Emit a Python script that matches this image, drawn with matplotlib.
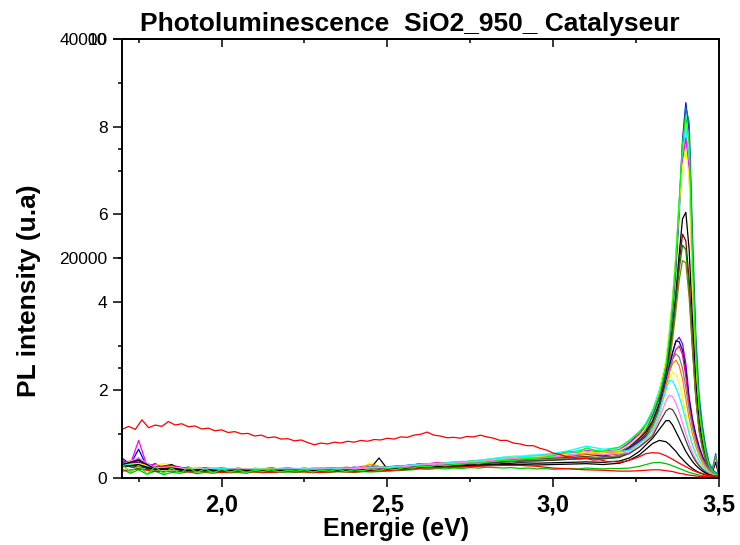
import matplotlib
matplotlib.use('Agg')
import matplotlib.pyplot as plt
from matplotlib.ticker import FixedLocator

plt.rcParams['font.family'] = ['Liberation Sans', 'DejaVu Sans']

# ---------------- data ----------------
TITLE = "Photoluminescence  SiO2_950_ Catalyseur"
XLABEL = "Energie (eV)"
YLABEL = "PL intensity (u.a)"

X_TICKS = [2.0, 2.5, 3.0, 3.5]
X_TICK_LABELS = ["2,0", "2,5", "3,0", "3,5"]
X_MINOR = [1.75, 2.25, 2.75, 3.25]
Y_TICKS = [0, 2, 4, 6, 8, 10]
Y_TICK_LABELS = ["0", "2", "4", "6", "8", "10"]
Y_MINOR = [1, 3, 5, 7, 9]
Y2_TICKS = [20000, 40000]
Y2_TICK_LABELS = ["20000", "40000"]
Y2_MINOR = [10000, 30000]

# energy grids (background part + peak part)
E_COARSE_BASE = [1.70, 1.75, 1.80, 1.85, 1.90, 1.95, 2.00, 2.05, 2.10, 2.15, 2.20, 2.25, 2.30, 2.35,
                 2.40, 2.45, 2.50, 2.55, 2.60, 2.65, 2.70, 2.75, 2.80, 2.85, 2.90, 2.95, 3.00, 3.05,
                 3.10, 3.15, 3.20]
E_FINE_BASE = [1.700, 1.725, 1.750, 1.775, 1.800, 1.825, 1.850, 1.875, 1.900, 1.925, 1.950, 1.975,
               2.000, 2.025, 2.050, 2.075, 2.100, 2.125, 2.150, 2.175, 2.200, 2.225, 2.250, 2.275,
               2.300, 2.325, 2.350, 2.375, 2.400, 2.425, 2.450, 2.475, 2.500, 2.525, 2.550, 2.575,
               2.600, 2.625, 2.650, 2.675, 2.700, 2.725, 2.750, 2.775, 2.800, 2.825, 2.850, 2.875,
               2.900, 2.925, 2.950, 2.975, 3.000, 3.025, 3.050, 3.075, 3.100, 3.125, 3.150, 3.175,
               3.200]
E_PEAK = [3.23, 3.26, 3.28, 3.30, 3.32, 3.34, 3.35, 3.36, 3.37, 3.38, 3.39, 3.40, 3.41, 3.42, 3.43,
          3.44, 3.45, 3.46, 3.47, 3.48, 3.49, 3.50]
E_GRID = E_COARSE_BASE + E_PEAK
E_FINE = E_FINE_BASE + E_PEAK

# spectra with a fine background grid
LIME = [0.30, 0.12, 0.28, 0.08, 0.25, 0.10, 0.22, 0.09, 0.24, 0.12, 0.20,
        0.11, 0.19, 0.13, 0.18, 0.12, 0.17, 0.14, 0.18, 0.13, 0.17,
        0.15, 0.18, 0.13, 0.17, 0.15, 0.19, 0.14, 0.18, 0.16, 0.20,
        0.17, 0.21, 0.18, 0.23, 0.22, 0.26, 0.25, 0.29, 0.27, 0.30,
        0.31, 0.34, 0.32, 0.36, 0.37, 0.40, 0.38, 0.42, 0.44, 0.45,
        0.47, 0.50, 0.55, 0.60, 0.58, 0.68, 0.62, 0.60, 0.66, 0.70] + \
       [0.85, 1.05, 1.20, 1.50, 1.90, 2.55, 3.20, 4.00, 5.00, 6.30, 7.60, 8.25, 7.60, 4.90, 2.80,
        1.60, 1.00, 0.55, 0.28, 0.15, 0.10, 0.04]
MAGENTA = [0.40, 0.30, 0.85, 0.28, 0.30, 0.22, 0.26, 0.20, 0.24, 0.19, 0.22,
           0.20, 0.21, 0.18, 0.22, 0.19, 0.21, 0.20, 0.23, 0.19, 0.21,
           0.20, 0.22, 0.19, 0.21, 0.22, 0.20, 0.24, 0.22, 0.26, 0.23,
           0.24, 0.25, 0.26, 0.27, 0.28, 0.30, 0.32, 0.34, 0.33, 0.36,
           0.37, 0.36, 0.39, 0.40, 0.42, 0.44, 0.43, 0.47, 0.48, 0.50,
           0.51, 0.53, 0.55, 0.58, 0.57, 0.62, 0.60, 0.60, 0.62, 0.64] + \
          [0.80, 1.00, 1.20, 1.50, 1.95, 2.60, 3.20, 4.00, 5.00, 6.20, 7.20, 7.75, 7.00, 4.50, 2.60,
           1.45, 0.90, 0.50, 0.25, 0.14, 0.10, 0.04]
BLUE = [0.45, 0.30, 0.65, 0.25, 0.32, 0.22, 0.30, 0.20, 0.24, 0.19, 0.22,
        0.18, 0.21, 0.19, 0.20, 0.17, 0.21, 0.19, 0.22, 0.18, 0.20,
        0.19, 0.18, 0.22, 0.21, 0.20, 0.23, 0.21, 0.24, 0.22, 0.25,
        0.23, 0.24, 0.26, 0.27, 0.29, 0.32, 0.31, 0.30, 0.33, 0.35,
        0.36, 0.37, 0.39, 0.40, 0.43, 0.45, 0.46, 0.48, 0.49, 0.50,
        0.51, 0.52, 0.55, 0.58, 0.57, 0.60, 0.59, 0.58, 0.60, 0.62] + \
       [0.80, 1.00, 1.15, 1.45, 1.85, 2.50, 3.10, 3.90, 4.90, 6.20, 7.70, 8.55, 7.90, 5.20, 3.00,
        1.70, 1.10, 0.60, 0.30, 0.18, 0.12, 0.05]
BLACK = [0.35, 0.25, 0.45, 0.20, 0.22, 0.26, 0.30, 0.18, 0.22, 0.16, 0.20,
         0.17, 0.19, 0.16, 0.18, 0.17, 0.16, 0.18, 0.17, 0.16, 0.18,
         0.17, 0.16, 0.19, 0.18, 0.17, 0.19, 0.18, 0.20, 0.19, 0.22,
         0.45, 0.20, 0.22, 0.23, 0.24, 0.28, 0.27, 0.29, 0.30, 0.32,
         0.31, 0.33, 0.34, 0.36, 0.37, 0.40, 0.39, 0.42, 0.41, 0.42,
         0.43, 0.44, 0.45, 0.46, 0.47, 0.48, 0.46, 0.47, 0.48, 0.50] + \
        [0.70, 0.90, 1.05, 1.30, 1.70, 2.30, 2.80, 3.40, 4.20, 5.10, 5.90, 6.05, 5.20, 3.60, 2.20,
         1.30, 0.80, 0.45, 0.22, 0.12, 0.35, 0.04]
GREEN2 = [0.20, 0.10, 0.18, 0.08, 0.15, 0.07, 0.12, 0.10, 0.14, 0.09, 0.12,
          0.10, 0.13, 0.11, 0.12, 0.10, 0.14, 0.11, 0.13, 0.12, 0.13,
          0.12, 0.14, 0.11, 0.13, 0.12, 0.14, 0.13, 0.12, 0.14, 0.13,
          0.14, 0.15, 0.16, 0.17, 0.18, 0.20, 0.19, 0.21, 0.20, 0.22,
          0.21, 0.23, 0.22, 0.24, 0.23, 0.22, 0.23, 0.21, 0.22, 0.20,
          0.21, 0.19, 0.20, 0.21, 0.20, 0.22, 0.21, 0.20, 0.21, 0.21] + \
         [0.22, 0.26, 0.30, 0.34, 0.35, 0.32, 0.30, 0.27, 0.24, 0.21, 0.18, 0.15, 0.12, 0.10, 0.08,
          0.06, 0.05, 0.04, 0.03, 0.05, 0.03, 0.02]
YELLOW = [0.30, 0.40, 0.35, 0.25, 0.28, 0.32, 0.30, 0.20, 0.22, 0.24, 0.20,
          0.21, 0.22, 0.20, 0.21, 0.19, 0.20, 0.22, 0.21, 0.20, 0.22,
          0.20, 0.21, 0.22, 0.21, 0.23, 0.22, 0.24, 0.22, 0.23, 0.35,
          0.24, 0.24, 0.25, 0.26, 0.28, 0.30, 0.31, 0.32, 0.35, 0.37,
          0.36, 0.37, 0.40, 0.41, 0.43, 0.45, 0.47, 0.50, 0.49, 0.50,
          0.51, 0.52, 0.54, 0.55, 0.57, 0.60, 0.58, 0.57, 0.60, 0.62] + \
         [0.75, 0.95, 1.15, 1.50, 1.95, 2.70, 3.30, 4.10, 5.10, 6.20, 7.10, 7.50, 6.80, 4.40, 2.50,
          1.40, 0.85, 0.45, 0.22, 0.12, 0.08, 0.03]

# spectra with a coarse background grid
DARKCYAN = [0.25, 0.30, 0.20, 0.22, 0.19, 0.18, 0.20, 0.19, 0.18, 0.20, 0.19, 0.20, 0.21, 0.19, 0.22, 0.24,
            0.22, 0.25, 0.30, 0.31, 0.33, 0.35, 0.38, 0.42, 0.44, 0.46, 0.50, 0.53, 0.55, 0.54, 0.58,
            0.75, 0.95, 1.10, 1.40, 1.80, 2.40, 2.95, 3.70, 4.70, 6.00, 7.50, 8.45, 8.10, 5.60, 3.30,
            1.90, 1.20, 0.70, 0.35, 0.20, 0.55, 0.08]
CYAN = [0.35, 0.30, 0.22, 0.25, 0.20, 0.19, 0.20, 0.18, 0.20, 0.21, 0.19, 0.20, 0.22, 0.21, 0.23, 0.24,
        0.25, 0.28, 0.30, 0.33, 0.35, 0.38, 0.42, 0.47, 0.50, 0.52, 0.55, 0.62, 0.72, 0.65, 0.68,
        0.85, 1.05, 1.25, 1.55, 2.00, 2.65, 3.30, 4.10, 5.10, 6.30, 7.40, 7.95, 7.30, 4.70, 2.70,
        1.50, 0.95, 0.50, 0.25, 0.15, 0.10, 0.04]
WINE = [0.30, 0.25, 0.20, 0.22, 0.17, 0.18, 0.16, 0.17, 0.16, 0.17, 0.18, 0.16, 0.18, 0.17, 0.19, 0.21,
        0.20, 0.22, 0.27, 0.28, 0.30, 0.31, 0.34, 0.37, 0.40, 0.40, 0.42, 0.44, 0.46, 0.45, 0.48,
        0.65, 0.85, 1.00, 1.25, 1.65, 2.25, 2.75, 3.35, 4.10, 4.90, 5.55, 5.40, 4.50, 3.10, 1.90,
        1.10, 0.70, 0.40, 0.20, 0.10, 0.08, 0.03]
DKGREEN = [0.30, 0.20, 0.18, 0.20, 0.16, 0.17, 0.15, 0.16, 0.15, 0.16, 0.17, 0.16, 0.17, 0.16, 0.18, 0.20,
           0.19, 0.21, 0.26, 0.27, 0.29, 0.30, 0.33, 0.36, 0.38, 0.39, 0.40, 0.42, 0.44, 0.43, 0.46,
           0.60, 0.80, 0.95, 1.20, 1.60, 2.20, 2.70, 3.30, 4.00, 4.75, 5.30, 5.20, 4.30, 3.00, 1.85,
           1.10, 0.70, 0.40, 0.20, 0.10, 0.08, 0.03]
OLIVE = [0.28, 0.32, 0.19, 0.21, 0.18, 0.17, 0.18, 0.16, 0.17, 0.18, 0.16, 0.17, 0.18, 0.17, 0.19, 0.21,
         0.21, 0.23, 0.27, 0.29, 0.31, 0.32, 0.35, 0.38, 0.40, 0.41, 0.43, 0.45, 0.47, 0.46, 0.49,
         0.60, 0.80, 0.95, 1.20, 1.55, 2.10, 2.60, 3.15, 3.80, 4.50, 4.95, 4.90, 4.10, 2.90, 1.80,
         1.05, 0.65, 0.38, 0.20, 0.10, 0.08, 0.03]
VIOLET = [0.35, 0.40, 0.25, 0.28, 0.20, 0.22, 0.20, 0.21, 0.19, 0.20, 0.21, 0.20, 0.19, 0.21, 0.22, 0.23,
          0.24, 0.26, 0.30, 0.31, 0.34, 0.36, 0.39, 0.43, 0.45, 0.47, 0.48, 0.52, 0.55, 0.52, 0.56,
          0.70, 0.85, 0.95, 1.10, 1.55, 2.20, 2.55, 2.85, 3.10, 3.20, 3.05, 2.60, 1.85, 1.35, 1.00,
          0.72, 0.50, 0.33, 0.22, 0.15, 0.10, 0.05]
NAVY = [0.30, 0.35, 0.22, 0.25, 0.20, 0.19, 0.21, 0.20, 0.18, 0.20, 0.19, 0.21, 0.20, 0.22, 0.21, 0.22,
        0.23, 0.25, 0.29, 0.30, 0.33, 0.35, 0.38, 0.42, 0.44, 0.46, 0.47, 0.50, 0.53, 0.50, 0.55,
        0.68, 0.82, 0.93, 1.08, 1.50, 2.15, 2.50, 2.85, 3.12, 3.10, 2.90, 2.45, 1.75, 1.30, 0.95,
        0.68, 0.47, 0.30, 0.20, 0.13, 0.10, 0.04]
PINK = [0.32, 0.38, 0.24, 0.26, 0.21, 0.20, 0.22, 0.19, 0.21, 0.20, 0.22, 0.19, 0.21, 0.23, 0.22, 0.24,
        0.24, 0.27, 0.31, 0.33, 0.35, 0.37, 0.40, 0.44, 0.46, 0.48, 0.50, 0.54, 0.58, 0.55, 0.58,
        0.65, 0.80, 0.90, 1.05, 1.45, 2.05, 2.40, 2.70, 2.92, 3.00, 2.80, 2.30, 1.65, 1.20, 0.88,
        0.62, 0.42, 0.28, 0.18, 0.12, 0.08, 0.04]
GRAY = [0.28, 0.30, 0.21, 0.23, 0.18, 0.19, 0.17, 0.19, 0.18, 0.17, 0.19, 0.18, 0.17, 0.19, 0.18, 0.21,
        0.21, 0.23, 0.27, 0.28, 0.30, 0.32, 0.35, 0.38, 0.40, 0.41, 0.42, 0.44, 0.46, 0.45, 0.50,
        0.65, 0.80, 0.92, 1.10, 1.50, 2.10, 2.45, 2.70, 2.82, 2.75, 2.50, 2.05, 1.55, 1.15, 0.85,
        0.60, 0.42, 0.30, 0.20, 0.13, 0.50, 0.05]
ORANGE = [0.30, 0.33, 0.23, 0.24, 0.19, 0.21, 0.19, 0.20, 0.19, 0.21, 0.20, 0.19, 0.20, 0.21, 0.20, 0.30,
          0.22, 0.25, 0.29, 0.31, 0.33, 0.35, 0.38, 0.42, 0.44, 0.45, 0.47, 0.50, 0.54, 0.52, 0.55,
          0.62, 0.78, 0.90, 1.08, 1.50, 2.10, 2.40, 2.60, 2.68, 2.55, 2.25, 1.80, 1.35, 1.00, 0.72,
          0.50, 0.35, 0.24, 0.16, 0.10, 0.07, 0.03]
YELLOW2 = [0.28, 0.32, 0.22, 0.24, 0.20, 0.21, 0.19, 0.20, 0.21, 0.19, 0.20, 0.21, 0.20, 0.22, 0.21, 0.23,
           0.23, 0.26, 0.30, 0.32, 0.34, 0.36, 0.40, 0.44, 0.47, 0.48, 0.50, 0.54, 0.58, 0.55, 0.57,
           0.60, 0.75, 0.88, 1.05, 1.45, 2.00, 2.25, 2.40, 2.35, 2.15, 1.85, 1.45, 1.05, 0.75, 0.52,
           0.36, 0.25, 0.17, 0.11, 0.07, 0.05, 0.02]
CYAN2 = [0.30, 0.28, 0.22, 0.21, 0.19, 0.20, 0.21, 0.19, 0.20, 0.19, 0.21, 0.20, 0.22, 0.20, 0.22, 0.24,
         0.24, 0.27, 0.31, 0.32, 0.35, 0.37, 0.41, 0.45, 0.48, 0.50, 0.52, 0.58, 0.66, 0.60, 0.60,
         0.62, 0.78, 0.90, 1.10, 1.50, 2.00, 2.22, 2.20, 2.05, 1.85, 1.60, 1.30, 1.00, 0.75, 0.55,
         0.40, 0.28, 0.19, 0.12, 0.08, 0.05, 0.02]
LTMAGENTA = [0.30, 0.45, 0.22, 0.24, 0.19, 0.20, 0.18, 0.20, 0.19, 0.18, 0.20, 0.19, 0.20, 0.19, 0.21, 0.22,
             0.22, 0.25, 0.29, 0.30, 0.33, 0.35, 0.38, 0.42, 0.45, 0.46, 0.48, 0.52, 0.56, 0.53, 0.55,
             0.58, 0.72, 0.85, 1.00, 1.35, 1.75, 1.88, 1.85, 1.70, 1.50, 1.25, 1.00, 0.78, 0.58, 0.42,
             0.30, 0.21, 0.14, 0.09, 0.06, 0.04, 0.02]
DKGRAY = [0.26, 0.28, 0.19, 0.21, 0.17, 0.18, 0.16, 0.18, 0.17, 0.16, 0.18, 0.17, 0.16, 0.18, 0.17, 0.19,
          0.20, 0.22, 0.26, 0.27, 0.29, 0.30, 0.33, 0.36, 0.38, 0.38, 0.40, 0.42, 0.44, 0.43, 0.47,
          0.55, 0.70, 0.82, 0.95, 1.25, 1.52, 1.58, 1.55, 1.42, 1.25, 1.05, 0.85, 0.66, 0.50, 0.37,
          0.27, 0.19, 0.13, 0.08, 0.05, 0.04, 0.02]
BLACK2 = [0.30, 0.40, 0.20, 0.22, 0.17, 0.18, 0.16, 0.17, 0.15, 0.17, 0.16, 0.15, 0.17, 0.16, 0.17, 0.18,
          0.19, 0.20, 0.24, 0.25, 0.27, 0.28, 0.30, 0.32, 0.34, 0.33, 0.34, 0.35, 0.36, 0.35, 0.38,
          0.45, 0.60, 0.75, 0.90, 1.10, 1.30, 1.30, 1.20, 1.05, 0.90, 0.75, 0.60, 0.48, 0.37, 0.28,
          0.21, 0.15, 0.10, 0.07, 0.05, 0.03, 0.02]
BLACK3 = [0.25, 0.30, 0.18, 0.20, 0.15, 0.17, 0.14, 0.16, 0.14, 0.15, 0.16, 0.15, 0.14, 0.16, 0.15, 0.17,
          0.18, 0.19, 0.22, 0.23, 0.25, 0.26, 0.28, 0.30, 0.30, 0.29, 0.30, 0.31, 0.32, 0.30, 0.33,
          0.40, 0.52, 0.65, 0.78, 0.85, 0.82, 0.76, 0.68, 0.60, 0.50, 0.42, 0.34, 0.27, 0.21, 0.16,
          0.12, 0.09, 0.06, 0.04, 0.03, 0.02, 0.01]
RED2 = [0.15, 0.20, 0.14, 0.15, 0.13, 0.14, 0.12, 0.14, 0.13, 0.12, 0.14, 0.13, 0.12, 0.14, 0.13, 0.15,
        0.16, 0.18, 0.22, 0.23, 0.24, 0.25, 0.27, 0.28, 0.28, 0.26, 0.22, 0.20, 0.18, 0.17, 0.15,
        0.15, 0.16, 0.17, 0.18, 0.18, 0.16, 0.15, 0.14, 0.12, 0.10, 0.09, 0.07, 0.06, 0.05, 0.04,
        0.03, 0.03, 0.02, 0.02, 0.02, 0.02, 0.01]

# the red spectrum with the high background (own, finer grid)
E_RED = [1.70, 1.72, 1.74, 1.76, 1.78, 1.80, 1.82, 1.84, 1.86, 1.88, 1.90, 1.92, 1.94, 1.96, 1.98,
         2.00, 2.02, 2.04, 2.06, 2.08, 2.10, 2.12, 2.14, 2.16, 2.18, 2.20, 2.22, 2.24, 2.26, 2.28,
         2.30, 2.32, 2.34, 2.36, 2.38, 2.40, 2.42, 2.44, 2.46, 2.48, 2.50, 2.52, 2.54, 2.56, 2.58,
         2.60, 2.62, 2.64, 2.66, 2.68, 2.70, 2.72, 2.74, 2.76, 2.78, 2.80, 2.82, 2.84, 2.86, 2.88,
         2.90, 2.92, 2.94, 2.96, 2.98, 3.00, 3.02, 3.04, 3.06, 3.08, 3.10, 3.12, 3.14, 3.16, 3.18,
         3.20, 3.22, 3.24, 3.26, 3.28, 3.30, 3.32, 3.34, 3.36, 3.38, 3.40, 3.42, 3.44, 3.46, 3.48, 3.50]
I_RED = [1.10, 1.17, 1.10, 1.32, 1.14, 1.20, 1.17, 1.28, 1.20, 1.23, 1.16, 1.18, 1.11, 1.13, 1.07,
         1.09, 1.03, 1.05, 1.00, 1.01, 0.95, 0.97, 0.91, 0.93, 0.88, 0.89, 0.84, 0.86, 0.80, 0.75,
         0.79, 0.77, 0.81, 0.79, 0.83, 0.81, 0.85, 0.83, 0.87, 0.86, 0.90, 0.88, 0.93, 0.92, 0.97,
         0.99, 1.04, 0.97, 0.95, 0.91, 0.92, 0.90, 0.94, 0.93, 0.97, 0.93, 0.90, 0.85, 0.85, 0.79,
         0.77, 0.73, 0.73, 0.67, 0.63, 0.56, 0.53, 0.48, 0.47, 0.43, 0.44, 0.40, 0.41, 0.37, 0.37,
         0.35, 0.38, 0.42, 0.48, 0.55, 0.57, 0.56, 0.50, 0.42, 0.33, 0.25, 0.17, 0.11, 0.07, 0.05, 0.04]

CLUSTER = [
    (BLUE, '#0000FF'), (DARKCYAN, '#008080'), (CYAN, '#00FFFF'), (MAGENTA, '#FF00FF'),
    (YELLOW, '#FFFF00'), (BLACK, '#000000'), (WINE, '#800000'), (DKGREEN, '#008000'),
    (OLIVE, '#808000'), (VIOLET, '#8000FF'), (NAVY, '#000080'), (PINK, '#FF0080'),
    (GRAY, '#808080'), (ORANGE, '#FF8000'), (YELLOW2, '#FFFF00'), (CYAN2, '#00FFFF'),
    (LTMAGENTA, '#FF80FF'), (DKGRAY, '#404040'), (BLACK2, '#000000'), (BLACK3, '#000000'),
    (GREEN2, '#00C000'), (RED2, '#FF0000'), (LIME, '#00FF00'),
]

# ---------------- figure ----------------
fig = plt.figure(figsize=(7.40, 5.45), dpi=100)
ax = fig.add_axes([122 / 740, 1 - 477.7 / 545, (719 - 122) / 740, (477.7 - 39) / 545])

for vals, col in CLUSTER:
    if len(vals) == len(E_FINE):
        xs = E_FINE
    elif len(vals) == len(E_GRID):
        xs = E_GRID
    else:
        raise ValueError("series length mismatch: %d" % len(vals))
    ax.plot(xs, vals, color=col, lw=0.9)
ax.plot(E_RED, I_RED, color='#FF0000', lw=0.9)

ax.set_xlim(1.7, 3.5)
ax.set_ylim(0, 10)

ax.set_xticks(X_TICKS)
ax.set_xticklabels(X_TICK_LABELS, fontsize=17, fontweight='bold')
ax.xaxis.set_minor_locator(FixedLocator(X_MINOR))
ax.set_yticks(Y_TICKS)
ax.set_yticklabels(Y_TICK_LABELS, fontsize=12.5)
ax.yaxis.set_minor_locator(FixedLocator(Y_MINOR))

ax.tick_params(axis='x', which='major', direction='out', length=6.5, width=1.1, pad=5,
               top=False, bottom=True)
ax.tick_params(axis='x', which='minor', direction='out', length=3.2, width=1.1, top=False)
ax.tick_params(axis='y', which='major', direction='out', length=6.5, width=1.1, pad=4,
               right=False, left=True)
ax.tick_params(axis='y', which='minor', direction='out', length=3.2, width=1.1, right=False)
for s in ax.spines.values():
    s.set_linewidth(1.4)

# inward ticks on the top frame
secx = ax.secondary_xaxis('top')
secx.set_xticks(X_TICKS)
secx.xaxis.set_minor_locator(FixedLocator(X_MINOR))
secx.tick_params(axis='x', which='major', direction='in', length=6.0, width=1.1, labeltop=False)
secx.tick_params(axis='x', which='minor', direction='in', length=3.0, width=1.1, labeltop=False)
secx.spines['top'].set_linewidth(1.4)

# second intensity scale (counts), drawn on the left as well
ax2 = ax.twinx()
ax2.set_ylim(0, 40000)
ax2.yaxis.set_ticks_position('left')
ax2.set_yticks(Y2_TICKS)
ax2.set_yticklabels(Y2_TICK_LABELS, fontsize=12.5)
ax2.yaxis.set_minor_locator(FixedLocator(Y2_MINOR))
ax2.tick_params(axis='y', which='major', direction='out', length=6.5, width=1.1, pad=4,
                left=True, right=False, labelleft=True, labelright=False)
ax2.tick_params(axis='y', which='minor', direction='out', length=3.2, width=1.1,
                left=True, right=False)
for s in ax2.spines.values():
    s.set_visible(False)

fig.text(410 / 740, 1 - 31 / 545, TITLE, ha='center', va='baseline',
         fontsize=19, fontweight='bold')
fig.text(396 / 740, 1 - 536 / 545, XLABEL, ha='center', va='baseline',
         fontsize=18, fontweight='bold')
fig.text(29 / 740, 1 - 291 / 545, YLABEL, ha='center', va='center', rotation=90,
         fontsize=19, fontweight='bold')

fig.savefig('out.png', dpi=100)
